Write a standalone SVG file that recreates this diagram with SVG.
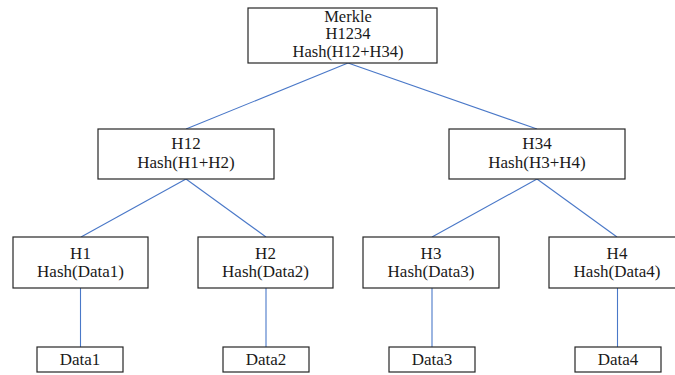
<svg xmlns="http://www.w3.org/2000/svg" width="675" height="375" viewBox="0 0 675 375">
<style>
.box{fill:#fff;stroke:#262626;stroke-width:1.2}
.t{font-family:'Liberation Serif','DejaVu Serif',serif;font-size:17px;fill:#1a1a1a;text-anchor:middle}
.s{font-size:16.5px}
.c{stroke:#4a78c8;stroke-width:1.1;fill:none}
</style>
<rect width="675" height="375" fill="#fff"/>
<g id="connectors">
<line class="c" x1="348" y1="63" x2="186" y2="129"/>
<line class="c" x1="348" y1="63" x2="537" y2="129"/>
<line class="c" x1="186" y1="179" x2="81" y2="237"/>
<line class="c" x1="186" y1="179" x2="266" y2="237"/>
<line class="c" x1="537" y1="179" x2="432" y2="237"/>
<line class="c" x1="537" y1="179" x2="617" y2="237"/>
<line class="c" x1="80.5" y1="288" x2="80.5" y2="347"/>
<line class="c" x1="266" y1="288" x2="266" y2="347"/>
<line class="c" x1="432" y1="288" x2="432" y2="347"/>
<line class="c" x1="617.5" y1="288" x2="617.5" y2="347"/>
</g>
<g id="merkle">
<rect class="box" x="248" y="8" width="189" height="55"/>
<text class="t s" x="348" y="21.5">Merkle</text>
<text class="t s" x="348" y="39">H1234</text>
<text class="t s" x="348" y="56.5">Hash(H12+H34)</text>
</g>
<g id="h12">
<rect class="box" x="98" y="129" width="176" height="50"/>
<text class="t" x="186" y="149">H12</text>
<text class="t" x="186" y="168">Hash(H1+H2)</text>
</g>
<g id="h34">
<rect class="box" x="449" y="129" width="176" height="50"/>
<text class="t" x="537" y="149">H34</text>
<text class="t" x="537" y="168">Hash(H3+H4)</text>
</g>
<g id="h1">
<rect class="box" x="13" y="237" width="135" height="51"/>
<text class="t" x="80.5" y="259">H1</text>
<text class="t" x="80.5" y="277">Hash(Data1)</text>
</g>
<g id="h2">
<rect class="box" x="198" y="237" width="135" height="51"/>
<text class="t" x="265.5" y="259">H2</text>
<text class="t" x="265.5" y="277">Hash(Data2)</text>
</g>
<g id="h3">
<rect class="box" x="363" y="237" width="136" height="51"/>
<text class="t" x="431" y="259">H3</text>
<text class="t" x="431" y="277">Hash(Data3)</text>
</g>
<g id="h4">
<rect class="box" x="549" y="237" width="136" height="51"/>
<text class="t" x="617" y="259">H4</text>
<text class="t" x="617" y="277">Hash(Data4)</text>
</g>
<g id="data1">
<rect class="box" x="37" y="347" width="86" height="25"/>
<text class="t" x="80" y="365">Data1</text>
</g>
<g id="data2">
<rect class="box" x="223" y="347" width="86" height="25"/>
<text class="t" x="266" y="365">Data2</text>
</g>
<g id="data3">
<rect class="box" x="389" y="347" width="86" height="25"/>
<text class="t" x="432" y="365">Data3</text>
</g>
<g id="data4">
<rect class="box" x="575" y="347" width="86" height="25"/>
<text class="t" x="618" y="365">Data4</text>
</g>
</svg>
